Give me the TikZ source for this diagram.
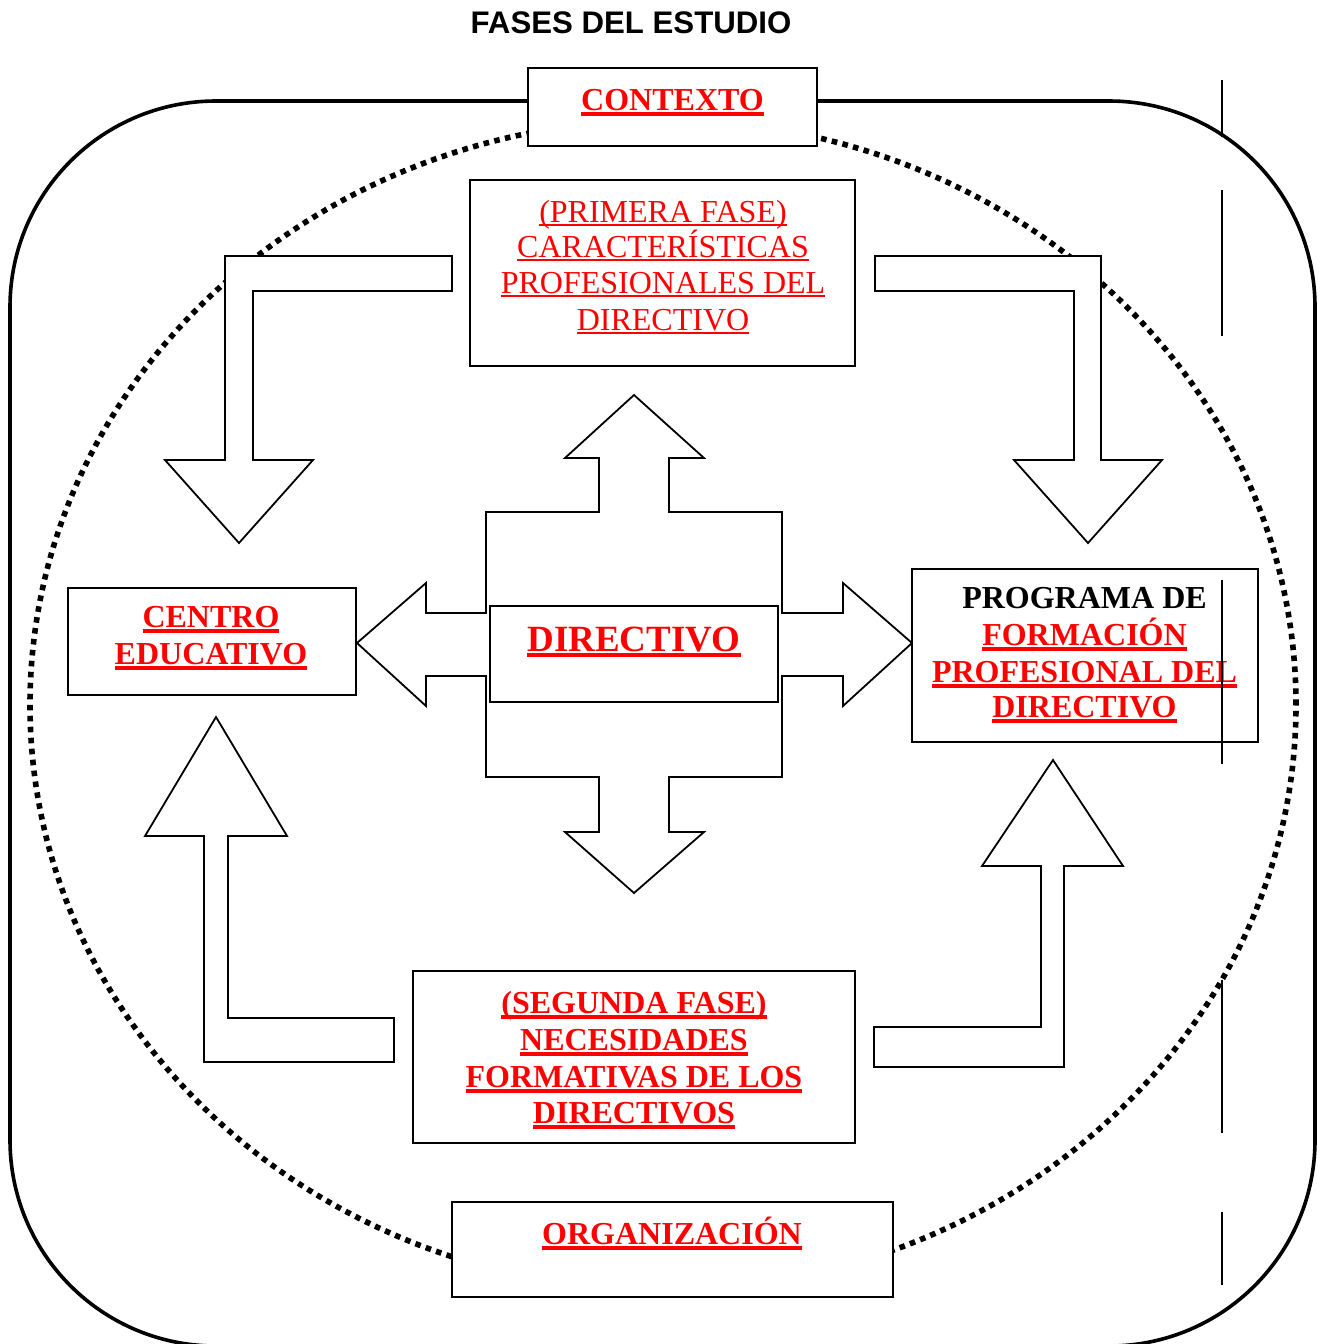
\documentclass[tikz,border=0pt]{standalone}
\usepackage{fontspec}
\setmainfont{Liberation Serif}
\newfontfamily\headfont{Liberation Sans}
\definecolor{lblred}{RGB}{255,0,0}
% underline for bold and regular labels
\newcommand\ulbold[1]{\leavevmode\setbox0\hbox{#1}\rlap{\rule[-2.8pt]{\wd0}{1.9pt}}\box0}
\newcommand\ulreg[1]{\leavevmode\setbox0\hbox{#1}\rlap{\rule[-2.2pt]{\wd0}{1.3pt}}\box0}
\begin{document}
\begin{tikzpicture}[x=0.5pt,y=-0.5pt,
  box/.style={draw=black, line width=1pt, fill=white, inner sep=0pt},
  blockarrow/.style={draw=black, line width=0.9pt, fill=white, line join=miter},
  lblB/.style={anchor=base, inner sep=0pt, text=lblred, font=\fontsize{16pt}{18pt}\selectfont\bfseries},
  lblR/.style={anchor=base, inner sep=0pt, text=lblred, font=\fontsize{16pt}{18pt}\selectfont},
  marker/.style={draw=black, line width=1.35pt}]
\useasboundingbox (0,0) rectangle (1324,1344);

% dotted ellipse
\draw[line width=2.8pt, dash pattern=on 2.8pt off 2.7pt] (663,705) ellipse [x radius=316.5pt, y radius=292.5pt];

% outer rounded frame
\draw[line width=1.8pt, rounded corners=103pt] (10,101) rectangle (1315,1346);

% corner block arrows
\draw[blockarrow] (452,256) -- (225,256) -- (225,460) -- (165,460) -- (239,543) -- (313,460) -- (253,460) -- (253,291) -- (452,291) -- cycle;
\draw[blockarrow] (875,256) -- (1101,256) -- (1101,460) -- (1162,460) -- (1088,543) -- (1014,460) -- (1074,460) -- (1074,291) -- (875,291) -- cycle;
\draw[blockarrow] (216,717) -- (287,836) -- (228,836) -- (228,1018) -- (394,1018) -- (394,1062) -- (204,1062) -- (204,836) -- (145,836) -- cycle;
\draw[blockarrow] (1053,760) -- (1123,866) -- (1064,866) -- (1064,1067) -- (874,1067) -- (874,1027) -- (1041,1027) -- (1041,866) -- (982,866) -- cycle;

% four-way arrow around the centre
\draw[blockarrow] (634,395) -- (704,458) -- (669,458) -- (669,512) -- (782,512) -- (782,613) -- (843,613) -- (843,583) -- (912,643) -- (843,706) -- (843,676) -- (782,676) -- (782,777) -- (669,777) -- (669,832) -- (704,832) -- (634,893) -- (565,832) -- (599,832) -- (599,777) -- (486,777) -- (486,676) -- (426,676) -- (426,706) -- (357,643) -- (426,583) -- (426,613) -- (486,613) -- (486,512) -- (599,512) -- (599,458) -- (565,458) -- cycle;

% boxes
\node[box, minimum width=144.5pt, minimum height=39pt] (ctx) at (672.5,107) {};
\node[box, minimum width=192.5pt, minimum height=93pt] (fase1) at (662.5,273) {};
\node[box, minimum width=144pt, minimum height=53.5pt] (centro) at (212,641.5) {};
\node[box, minimum width=144pt, minimum height=48pt] (dir) at (634,654) {};
\node[box, minimum width=173pt, minimum height=86.5pt] (prog) at (1085,655.5) {};
\node[box, minimum width=221pt, minimum height=86pt] (fase2) at (634,1057) {};
\node[box, minimum width=220.5pt, minimum height=47.5pt] (org) at (672.5,1249.5) {};

% title
\node[anchor=base, inner sep=0pt, font=\headfont\fontsize{15.6pt}{18pt}\selectfont\bfseries] (title) at (631,33) {FASES DEL ESTUDIO};

% labels
\node[lblB] (tctx) at (672.5,110) {\ulbold{CONTEXTO}};

\node[lblR] (f1a) at (663,222) {\ulreg{(PRIMERA FASE)}};
\node[lblR] (f1b) at (663,257) {\ulreg{CARACTERÍSTICAS}};
\node[lblR] (f1c) at (663,293) {\ulreg{PROFESIONALES DEL}};
\node[lblR] (f1d) at (663,330) {\ulreg{DIRECTIVO}};

\node[lblB] (ce1) at (211,627) {\ulbold{CENTRO}};
\node[lblB] (ce2) at (211,664) {\ulbold{EDUCATIVO}};

\node[lblB, font=\fontsize{18.5pt}{20pt}\selectfont\bfseries] (tdir) at (634,651) {\ulbold{DIRECTIVO}};

\node[lblB, text=black] (pr1) at (1084.5,608) {PROGRAMA DE};
\node[lblB] (pr2) at (1084.5,645) {\ulbold{FORMACIÓN}};
\node[lblB] (pr3) at (1084.5,682) {\ulbold{PROFESIONAL DEL}};
\node[lblB] (pr4) at (1084.5,717) {\ulbold{DIRECTIVO}};

\node[lblB] (f2a) at (634,1013) {\ulbold{(SEGUNDA FASE)}};
\node[lblB] (f2b) at (634,1050) {\ulbold{NECESIDADES}};
\node[lblB] (f2c) at (634,1087) {\ulbold{FORMATIVAS DE LOS}};
\node[lblB] (f2d) at (634,1123) {\ulbold{DIRECTIVOS}};

\node[lblB] (torg) at (672,1244) {\ulbold{ORGANIZACIÓN}};

% vertical marker strokes on the right
\draw[marker] (1222,80) -- (1222,137);
\draw[marker] (1222,190) -- (1222,336);
\draw[marker] (1222,580) -- (1222,764);
\draw[marker] (1222,980) -- (1222,1133);
\draw[marker] (1222,1212) -- (1222,1285);
\end{tikzpicture}
\end{document}
